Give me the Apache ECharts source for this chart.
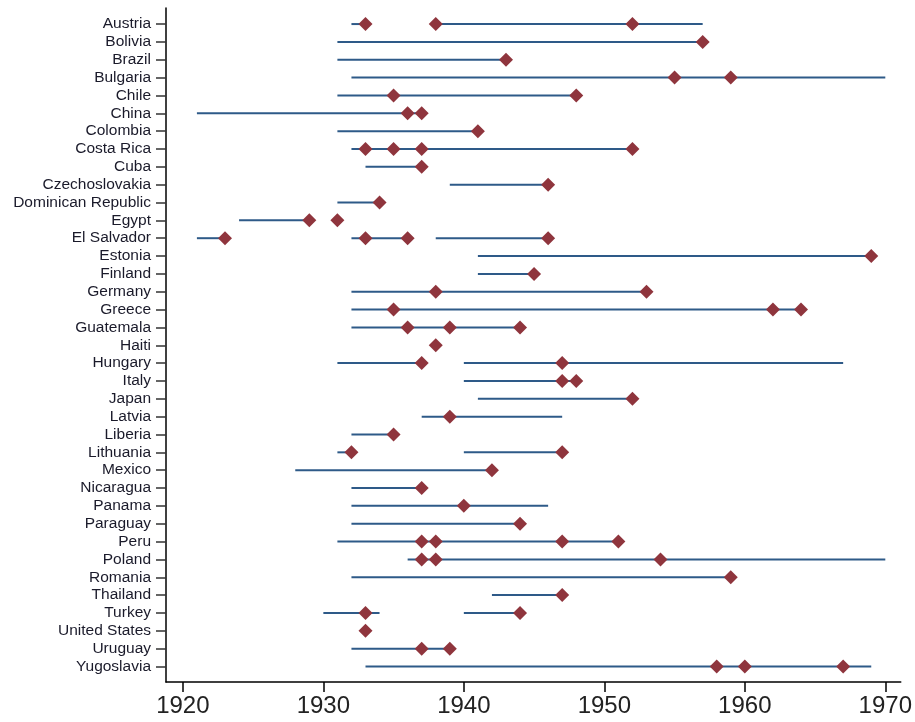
<!DOCTYPE html>
<html><head><meta charset="utf-8">
<script src="https://cdn.jsdelivr.net/npm/echarts@6/dist/echarts.min.js"></script>
<style>html,body{margin:0;padding:0;background:#fff}#c{width:915px;height:722px}</style>
</head><body><div id="c"></div>
<script>
const countries = ["Austria","Bolivia","Brazil","Bulgaria","Chile","China","Colombia","Costa Rica","Cuba","Czechoslovakia","Dominican Republic","Egypt","El Salvador","Estonia","Finland","Germany","Greece","Guatemala","Haiti","Hungary","Italy","Japan","Latvia","Liberia","Lithuania","Mexico","Nicaragua","Panama","Paraguay","Peru","Poland","Romania","Thailand","Turkey","United States","Uruguay","Yugoslavia"];
// spans per country: [start, end]
const spans = [
  [[1932,1933],[1938,1957]],
  [[1931,1957]],
  [[1931,1943]],
  [[1932,1970]],
  [[1931,1948]],
  [[1921,1937]],
  [[1931,1941]],
  [[1932,1952]],
  [[1933,1937]],
  [[1939,1946]],
  [[1931,1934]],
  [[1924,1929]],
  [[1921,1923],[1932,1936],[1938,1946]],
  [[1941,1969]],
  [[1941,1945]],
  [[1932,1953]],
  [[1932,1964]],
  [[1932,1944]],
  [],
  [[1931,1937],[1940,1967]],
  [[1940,1948]],
  [[1941,1952]],
  [[1937,1947]],
  [[1932,1935]],
  [[1931,1932],[1940,1947]],
  [[1928,1942]],
  [[1932,1937]],
  [[1932,1946]],
  [[1932,1944]],
  [[1931,1951]],
  [[1936,1970]],
  [[1932,1959]],
  [[1942,1947]],
  [[1930,1934],[1940,1944]],
  [],
  [[1932,1939]],
  [[1933,1969]]
];
// event years per country (diamonds)
const events = [
  [1933,1938,1952],
  [1957],
  [1943],
  [1955,1959],
  [1935,1948],
  [1936,1937],
  [1941],
  [1933,1935,1937,1952],
  [1937],
  [1946],
  [1934],
  [1929,1931],
  [1923,1933,1936,1946],
  [1969],
  [1945],
  [1938,1953],
  [1935,1962,1964],
  [1936,1939,1944],
  [1938],
  [1937,1947],
  [1947,1948],
  [1952],
  [1939],
  [1935],
  [1932,1947],
  [1942],
  [1937],
  [1940],
  [1944],
  [1937,1938,1947,1951],
  [1937,1938,1954],
  [1959],
  [1947],
  [1933,1944],
  [1933],
  [1937,1939],
  [1958,1960,1967]
];
const xTicks = [1920,1930,1940,1950,1960,1970];

const spanData = [];
spans.forEach((list, i) => list.forEach(s => spanData.push([s[0], s[1], i])));
const eventData = [];
events.forEach((list, i) => list.forEach(y => eventData.push([y, i])));
const rowIdx = countries.map((_, i) => i);

const chart = echarts.init(document.getElementById('c'), null, {renderer:'canvas'});
chart.setOption({
  animation:false,
  backgroundColor:'#fff',
  grid:{left:166, right:14, top:8, bottom:40},
  xAxis:{
    type:'value', min:1918.8, max:1971.1,
    axisLine:{show:true, onZero:false, lineStyle:{color:'#000', width:1.5}},
    axisTick:{show:true, length:10, customValues:xTicks, lineStyle:{color:'#000', width:1.5}},
    axisLabel:{customValues:xTicks, color:'#222', fontSize:24, fontFamily:'Liberation Sans, Arial, sans-serif', margin:12,
      formatter: v => String(Math.round(v))},
    splitLine:{show:false}
  },
  yAxis:{
    type:'value', inverse:true, min:-0.9, max:36.87,
    axisLine:{show:true, onZero:false, lineStyle:{color:'#000', width:1.5}},
    axisTick:{show:true, length:10, customValues:rowIdx, lineStyle:{color:'#333', width:1.5}},
    axisLabel:{customValues:rowIdx, color:'#1a1a2a', fontSize:15.5, fontFamily:'Liberation Sans, Arial, sans-serif', margin:15,
      formatter: v => countries[Math.round(v)] || ''},
    splitLine:{show:false}
  },
  series:[
    {
      type:'custom',
      data:spanData,
      encode:{x:[0,1], y:2},
      renderItem:(params, api) => {
        const a = api.coord([api.value(0), api.value(2)]);
        const b = api.coord([api.value(1), api.value(2)]);
        return {type:'line', shape:{x1:a[0], y1:a[1], x2:b[0], y2:b[1]},
          style:{stroke:'#2e5a88', lineWidth:2}};
      }
    },
    {
      type:'scatter',
      data:eventData,
      symbol:'diamond',
      symbolSize:[14,14],
      itemStyle:{color:'#8f353d', opacity:1}
    }
  ]
});
</script></body></html>
